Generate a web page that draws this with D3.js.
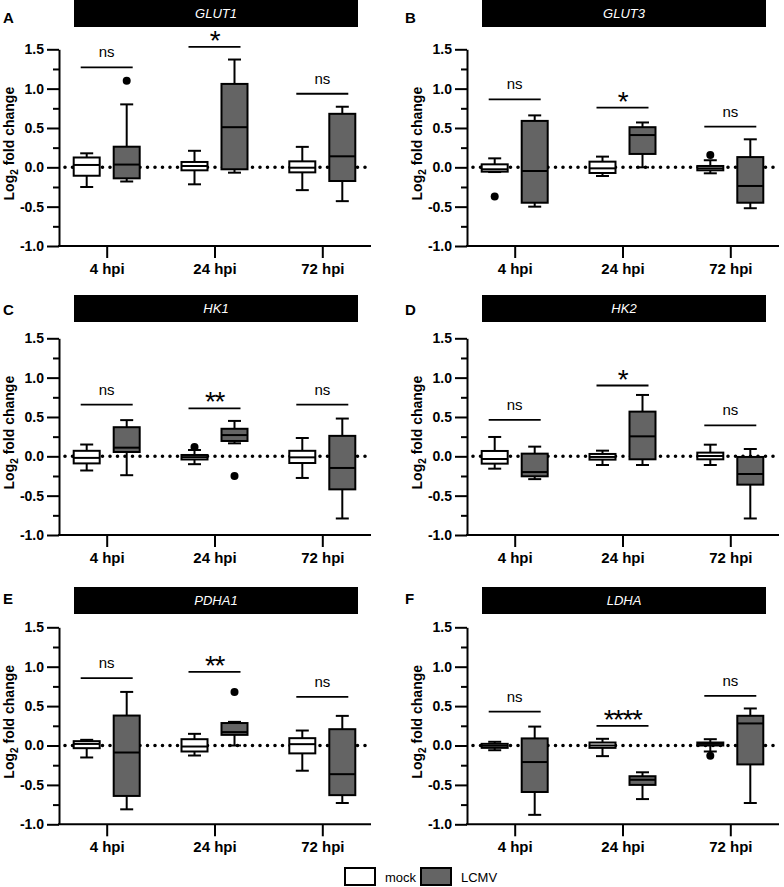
<!DOCTYPE html>
<html>
<head>
<meta charset="utf-8">
<script src="https://cdn.jsdelivr.net/npm/d3@7"></script>
<style>
  html, body { margin: 0; padding: 0; background: #fff; }
  svg { display: block; font-family: "Liberation Sans", Arial, Helvetica, sans-serif; }
</style>
</head>
<body>
<svg id="chart" width="784" height="887"></svg>
<script>
// ---------------- DATA ----------------
const categories = ["4 hpi", "24 hpi", "72 hpi"];
const groups = ["mock", "LCMV"];
const genes = ["GLUT1", "GLUT3", "HK1", "HK2", "PDHA1", "LDHA"];
const panelLetters = ["A", "B", "C", "D", "E", "F"];
const yTicks = [-1.0, -0.5, 0.0, 0.5, 1.0, 1.5];
const yMinorTicks = [-0.75, -0.25, 0.25, 0.75, 1.25];

// box stats per category: [whisker low, Q1, median, Q3, whisker high]
const glut1Mock = [[-0.25, -0.107, 0.03, 0.125, 0.178], [-0.216, -0.038, 0.017, 0.068, 0.21], [-0.29, -0.064, -0.005, 0.076, 0.26]];
const glut1Lcmv = [[-0.18, -0.14, 0.035, 0.262, 0.80], [-0.068, -0.025, 0.51, 1.06, 1.37], [-0.43, -0.174, 0.14, 0.68, 0.77]];
const glut1Outliers = [["4 hpi", "LCMV", 1.10]];
const glut1SigY = [1.27, 1.53, 0.935];
const glut1SigLabel = ["ns", "*", "ns"];

const glut3Mock = [[-0.06, -0.055, -0.025, 0.038, 0.114], [-0.11, -0.072, -0.013, 0.072, 0.136], [-0.076, -0.038, -0.013, 0.017, 0.09]];
const glut3Lcmv = [[-0.50, -0.45, -0.047, 0.59, 0.66], [0.0, 0.17, 0.41, 0.51, 0.57], [-0.52, -0.45, -0.237, 0.13, 0.356]];
const glut3Outliers = [["4 hpi", "mock", -0.37], ["72 hpi", "mock", 0.157]];
const glut3SigY = [0.864, 0.758, 0.517];
const glut3SigLabel = ["ns", "*", "ns"];

const hk1Mock = [[-0.18, -0.09, -0.02, 0.07, 0.15], [-0.10, -0.04, -0.01, 0.017, 0.08], [-0.275, -0.085, -0.013, 0.07, 0.233]];
const hk1Lcmv = [[-0.24, 0.055, 0.11, 0.37, 0.46], [0.165, 0.195, 0.27, 0.35, 0.45], [-0.79, -0.42, -0.148, 0.26, 0.48]];
const hk1Outliers = [["24 hpi", "mock", 0.12], ["24 hpi", "LCMV", -0.25]];
const hk1SigY = [0.657, 0.61, 0.657];
const hk1SigLabel = ["ns", "**", "ns"];

const hk2Mock = [[-0.157, -0.093, -0.034, 0.068, 0.246], [-0.11, -0.042, -0.008, 0.03, 0.072], [-0.11, -0.038, 0.004, 0.047, 0.148]];
const hk2Lcmv = [[-0.29, -0.254, -0.2, 0.034, 0.123], [-0.11, -0.038, 0.254, 0.568, 0.78], [-0.79, -0.36, -0.225, -0.008, 0.093]];
const hk2Outliers = [];
const hk2SigY = [0.462, 0.90, 0.394];
const hk2SigLabel = ["ns", "*", "ns"];

const pdha1Mock = [[-0.152, -0.034, 0.02, 0.055, 0.072], [-0.127, -0.076, -0.013, 0.08, 0.148], [-0.32, -0.10, 0.017, 0.093, 0.19]];
const pdha1Lcmv = [[-0.81, -0.64, -0.089, 0.38, 0.68], [0.0, 0.135, 0.17, 0.285, 0.30], [-0.73, -0.63, -0.364, 0.207, 0.376]];
const pdha1Outliers = [["24 hpi", "LCMV", 0.68]];
const pdha1SigY = [0.855, 0.935, 0.617];
const pdha1SigLabel = ["ns", "**", "ns"];

const ldhaMock = [[-0.06, -0.03, -0.004, 0.021, 0.047], [-0.135, -0.03, 0.0, 0.038, 0.085], [-0.076, 0.0, 0.02, 0.038, 0.08]];
const ldhaLcmv = [[-0.88, -0.59, -0.21, 0.09, 0.24], [-0.68, -0.50, -0.435, -0.39, -0.34], [-0.73, -0.24, 0.28, 0.377, 0.47]];
const ldhaOutliers = [["72 hpi", "mock", -0.13]];
const ldhaSigY = [0.43, 0.25, 0.63];
const ldhaSigLabel = ["ns", "****", "ns"];

const legendLabels = ["mock", "LCMV"];
const groupColors = ["#ffffff", "#646464"];

// ---------------- BUILD ----------------
const panels = [
  {mock: glut1Mock, lcmv: glut1Lcmv, out: glut1Outliers, sigY: glut1SigY, sigL: glut1SigLabel},
  {mock: glut3Mock, lcmv: glut3Lcmv, out: glut3Outliers, sigY: glut3SigY, sigL: glut3SigLabel},
  {mock: hk1Mock, lcmv: hk1Lcmv, out: hk1Outliers, sigY: hk1SigY, sigL: hk1SigLabel},
  {mock: hk2Mock, lcmv: hk2Lcmv, out: hk2Outliers, sigY: hk2SigY, sigL: hk2SigLabel},
  {mock: pdha1Mock, lcmv: pdha1Lcmv, out: pdha1Outliers, sigY: pdha1SigY, sigL: pdha1SigLabel},
  {mock: ldhaMock, lcmv: ldhaLcmv, out: ldhaOutliers, sigY: ldhaSigY, sigL: ldhaSigLabel}
];

const svg = d3.select("#chart");
const colAxisX = [59, 467];
const colLetterX = [3, 405];
const rows = [
  {top: 49.3, bottom: 246, barTop: 0, letterY: 17},
  {top: 338.3, bottom: 535, barTop: 295, letterY: 309},
  {top: 627.3, bottom: 824.3, barTop: 587, letterY: 598}
];
const axisLen = 312;
const boxW = 26, capW = 13, groupOff = 20;

panels.forEach((p, i) => {
  const col = i % 2, row = Math.floor(i / 2);
  const ax = colAxisX[col];
  const R = rows[row];
  const g = svg.append("g");

  const x = d3.scalePoint().domain(categories).range([ax + 47.7, ax + 263.3]);
  const xg = d3.scaleOrdinal().domain(groups).range([-groupOff, groupOff]);
  const y = d3.scaleLinear().domain([-1, 1.5]).range([R.bottom, R.top]);

  // title bar
  g.append("rect").attr("x", ax + 15).attr("y", R.barTop).attr("width", 284).attr("height", 27).attr("fill", "#000");
  g.append("text").attr("x", ax + 157).attr("y", R.barTop + 18).attr("text-anchor", "middle")
    .attr("fill", "#fff").attr("font-size", 13).attr("font-style", "italic").text(genes[i]);
  // panel letter
  g.append("text").attr("x", colLetterX[col]).attr("y", R.letterY + 5.5).attr("font-size", 15)
    .attr("font-weight", "bold").text(panelLetters[i]);

  // zero dotted line
  g.append("line").attr("x1", ax + 6).attr("x2", ax + 308).attr("y1", y(0)).attr("y2", y(0))
    .attr("stroke", "#000").attr("stroke-width", 3.6).attr("stroke-linecap", "round")
    .attr("stroke-dasharray", "0 7.5");

  // y axis
  const yAxis = g.append("g").attr("transform", `translate(${ax},0)`)
    .call(d3.axisLeft(y).tickValues(yTicks).tickSize(12).tickSizeOuter(0).tickPadding(3).tickFormat(d => d.toFixed(1)));
  yAxis.selectAll("path, line").attr("stroke-width", 2);
  yAxis.selectAll("text").attr("font-size", 14).attr("font-weight", "bold").attr("fill", "#000")
    .attr("font-family", "Liberation Sans, Arial, sans-serif");
  const yMinor = g.append("g").attr("transform", `translate(${ax},0)`)
    .call(d3.axisLeft(y).tickValues(yMinorTicks).tickSize(6).tickSizeOuter(0).tickFormat(""));
  yMinor.select("path").remove();
  yMinor.selectAll("line").attr("stroke-width", 2);

  // x axis
  const xAxis = g.append("g").attr("transform", `translate(0,${R.bottom})`)
    .call(d3.axisBottom(x).tickSize(12).tickSizeOuter(0).tickPadding(5));
  xAxis.select("path").remove();
  xAxis.selectAll("line").attr("stroke-width", 2);
  xAxis.selectAll("text").attr("font-size", 15).attr("font-weight", "bold").attr("fill", "#000")
    .attr("font-family", "Liberation Sans, Arial, sans-serif");
  g.append("line").attr("x1", ax - 1).attr("x2", ax + axisLen).attr("y1", R.bottom).attr("y2", R.bottom)
    .attr("stroke", "#000").attr("stroke-width", 2);

  // y title
  const yt = g.append("text").attr("transform", `translate(${ax - 45},${(R.top + R.bottom) / 2 - 4}) rotate(-90)`)
    .attr("text-anchor", "middle").attr("font-size", 14).attr("font-weight", "bold");
  yt.append("tspan").text("Log");
  yt.append("tspan").attr("font-size", 10).attr("dy", 4).text("2");
  yt.append("tspan").attr("dy", -4).text(" fold change");

  // boxes
  const series = [p.mock, p.lcmv];
  series.forEach((stats, gi) => {
    const grp = groups[gi];
    stats.forEach((s, ci) => {
      const cx = x(categories[ci]) + xg(grp);
      const bg = g.append("g");
      // whiskers
      bg.append("line").attr("x1", cx).attr("x2", cx).attr("y1", y(s[0])).attr("y2", y(s[1]))
        .attr("stroke", "#000").attr("stroke-width", 2);
      bg.append("line").attr("x1", cx).attr("x2", cx).attr("y1", y(s[3])).attr("y2", y(s[4]))
        .attr("stroke", "#000").attr("stroke-width", 2);
      [s[0], s[4]].forEach(v => {
        bg.append("line").attr("x1", cx - capW / 2).attr("x2", cx + capW / 2).attr("y1", y(v)).attr("y2", y(v))
          .attr("stroke", "#000").attr("stroke-width", 2);
      });
      bg.append("rect").attr("x", cx - boxW / 2).attr("width", boxW)
        .attr("y", y(s[3])).attr("height", Math.max(0.5, y(s[1]) - y(s[3])))
        .attr("fill", groupColors[gi]).attr("stroke", "#000").attr("stroke-width", 2);
      bg.append("line").attr("x1", cx - boxW / 2).attr("x2", cx + boxW / 2).attr("y1", y(s[2])).attr("y2", y(s[2]))
        .attr("stroke", "#000").attr("stroke-width", 2);
    });
  });
  // outliers
  p.out.forEach(o => {
    g.append("circle").attr("cx", x(o[0]) + xg(o[1])).attr("cy", y(o[2])).attr("r", 4).attr("fill", "#000");
  });
  // significance
  categories.forEach((c, ci) => {
    const cx = x(c);
    const ly = y(p.sigY[ci]);
    g.append("line").attr("x1", cx - 26).attr("x2", cx + 26).attr("y1", ly).attr("y2", ly)
      .attr("stroke", "#000").attr("stroke-width", 1.8);
    const lab = p.sigL[ci];
    const isStar = lab.indexOf("*") >= 0;
    g.append("text").attr("x", cx).attr("y", isStar ? ly + 3 : ly - 10).attr("text-anchor", "middle")
      .attr("font-size", isStar ? 28 : 15).attr("letter-spacing", isStar ? -1.5 : 0).text(lab);
  });
});

// legend
const lg = svg.append("g");
const lx = d3.scaleOrdinal().domain(legendLabels).range([345, 421]);
legendLabels.forEach((l, i) => {
  lg.append("rect").attr("x", lx(l)).attr("y", 868).attr("width", 30).attr("height", 17)
    .attr("fill", groupColors[i]).attr("stroke", "#000").attr("stroke-width", 2);
  lg.append("text").attr("x", lx(l) + 40).attr("y", 882).attr("font-size", 13).text(l);
});
</script>
</body>
</html>
